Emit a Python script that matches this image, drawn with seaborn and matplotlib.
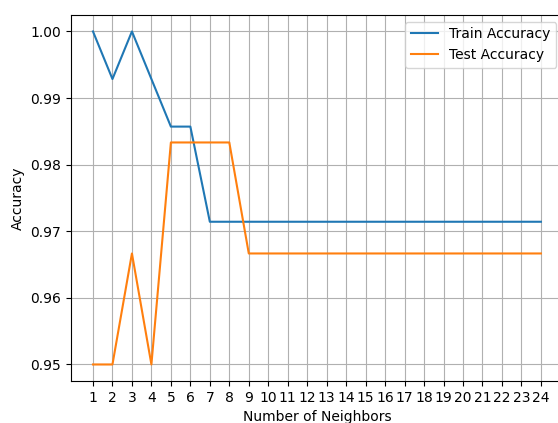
import numpy as np
import pandas as pd
import matplotlib
matplotlib.use("Agg")
import matplotlib.pyplot as plt
import seaborn as sns

neighbors = list(range(1, 25))
train_acc = [1.0, 139/140, 1.0, 139/140, 138/140, 138/140] + [136/140] * 18
test_acc = [57/60, 57/60, 58/60, 57/60, 59/60, 59/60, 59/60, 59/60] + [58/60] * 16

fig = plt.figure(figsize=(5.58, 4.23), dpi=100)
ax = fig.add_axes([0.1265, 0.099, 0.883, 0.866])

sns.lineplot(x=neighbors, y=train_acc, ax=ax, label='Train Accuracy', color='#1f77b4')
sns.lineplot(x=neighbors, y=test_acc, ax=ax, label='Test Accuracy', color='#ff7f0e')

ax.set_xticks(neighbors)
ax.set_xlabel('Number of Neighbors')
ax.set_ylabel('Accuracy')
ax.grid(True)
ax.legend(loc='upper right')

fig.savefig('out.png', dpi=100)
